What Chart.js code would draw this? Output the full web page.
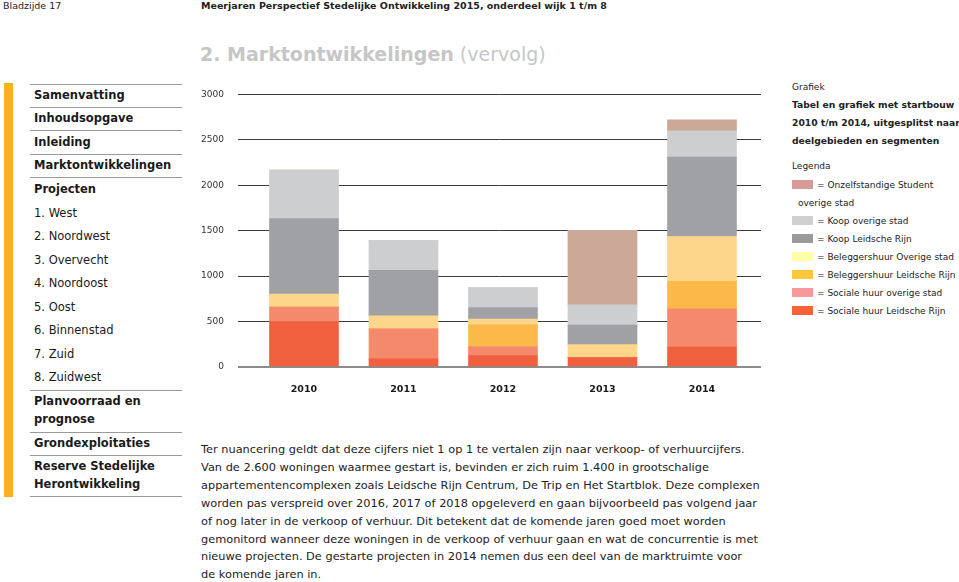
<!DOCTYPE html>
<html>
<head>
<meta charset="utf-8">
<script src="https://cdn.jsdelivr.net/npm/chart.js@4/dist/chart.umd.min.js"></script>
<style>
  html, body { margin:0; padding:0; background:#fff; }
  body { width:959px; height:582px; overflow:hidden; position:relative; font-family:"DejaVu Sans", Verdana, sans-serif; color:#222; }
  .abs { position:absolute; white-space:nowrap; }
  .hdr { font-size:9.5px; line-height:12px; top:0; }
  .title { left:200px; top:41px; font-size:19px; line-height:26px; color:#c6c6c6; }
  .side { position:absolute; left:4px; top:83px; width:9px; height:414px; background:#f9b21b; }
  .rule { position:absolute; left:30px; width:152px; height:0; border-top:1.5px solid #9a9a9a; }
  .mi { position:absolute; left:34px; font-size:11.5px; line-height:16px; white-space:nowrap; color:#1a1a1a; }
  .b { font-weight:bold; }
  .body { position:absolute; left:201px; top:441px; font-size:11.35px; line-height:17.9px; white-space:nowrap; color:#222; }
  .rp { position:absolute; font-size:9px; line-height:12px; white-space:nowrap; color:#222; }
  .rpb { font-size:9.2px; font-weight:bold; }
  .sw { position:absolute; left:792px; width:21px; height:9px; }
</style>
</head>
<body>
<div class="abs hdr" style="left:3px;">Bladzijde 17</div>
<div class="abs hdr b" style="left:201px;">Meerjaren Perspectief Stedelijke Ontwikkeling 2015, onderdeel wijk 1 t/m 8</div>
<div class="abs title"><span class="b">2. Marktontwikkelingen</span> (vervolg)</div>

<div class="side"></div>
<div class="rule" style="top:84px"></div>
<div class="rule" style="top:107px"></div>
<div class="rule" style="top:130px"></div>
<div class="rule" style="top:154px"></div>
<div class="rule" style="top:177px"></div>
<div class="rule" style="top:390px"></div>
<div class="rule" style="top:432px"></div>
<div class="rule" style="top:455px"></div>
<div class="rule" style="top:496px"></div>
<div class="mi b" style="top:87px">Samenvatting</div>
<div class="mi b" style="top:110px">Inhoudsopgave</div>
<div class="mi b" style="top:134px">Inleiding</div>
<div class="mi b" style="top:157px">Marktontwikkelingen</div>
<div class="mi b" style="top:181px">Projecten</div>
<div class="mi" style="top:205px">1. West</div>
<div class="mi" style="top:228px">2. Noordwest</div>
<div class="mi" style="top:252px">3. Overvecht</div>
<div class="mi" style="top:275px">4. Noordoost</div>
<div class="mi" style="top:299px">5. Oost</div>
<div class="mi" style="top:322px">6. Binnenstad</div>
<div class="mi" style="top:346px">7. Zuid</div>
<div class="mi" style="top:369px">8. Zuidwest</div>
<div class="mi b" style="top:393px">Planvoorraad en</div>
<div class="mi b" style="top:411px">prognose</div>
<div class="mi b" style="top:435px">Grondexploitaties</div>
<div class="mi b" style="top:458px">Reserve Stedelijke</div>
<div class="mi b" style="top:476px">Herontwikkeling</div>

<div class="abs" style="left:190px; top:75px; width:585px; height:330px;">
  <canvas id="c" width="585" height="330" style="width:585px;height:330px;"></canvas>
</div>

<div class="rp" style="left:792px; top:81px;">Grafiek</div>
<div class="rp rpb" style="left:792px; top:99px;">Tabel en grafiek met startbouw</div>
<div class="rp rpb" style="left:792px; top:117px;">2010 t/m 2014, uitgesplitst naar</div>
<div class="rp rpb" style="left:792px; top:135px;">deelgebieden en segmenten</div>
<div class="rp" style="left:792px; top:160px;">Legenda</div>
<div id="legend"></div>

<div class="body">Ter nuancering geldt dat deze cijfers niet 1 op 1 te vertalen zijn naar verkoop- of verhuurcijfers.<br>Van de 2.600 woningen waarmee gestart is, bevinden er zich ruim 1.400 in grootschalige<br>appartementencomplexen zoals Leidsche Rijn Centrum, De Trip en Het Startblok. Deze complexen<br>worden pas verspreid over 2016, 2017 of 2018 opgeleverd en gaan bijvoorbeeld pas volgend jaar<br>of nog later in de verkoop of verhuur. Dit betekent dat de komende jaren goed moet worden<br>gemonitord wanneer deze woningen in de verkoop of verhuur gaan en wat de concurrentie is met<br>nieuwe projecten. De gestarte projecten in 2014 nemen dus een deel van de marktruimte voor<br>de komende jaren in.</div>

<script>
// ---- data ----
const years = [2010, 2011, 2012, 2013, 2014];
const socialeHuurLeidscheRijn   = [500,  90, 125, 104, 218];
const socialeHuurOverigeStad    = [159, 329, 101,   0, 423];
const beleggershuurLeidscheRijn = [  0,   0, 239,   0, 301];
const beleggershuurOverigeStad  = [143, 143,  61, 143, 494];
const koopLeidscheRijn          = [831, 501, 129, 215, 873];
const koopOverigeStad           = [533, 330, 215, 222, 290];
const onzelfstandigeStudent     = [  0,   0,   0, 820, 122];
const yTickValues = [0, 500, 1000, 1500, 2000, 2500, 3000];

const seriesNames = [
  'Sociale huur Leidsche Rijn', 'Sociale huur overige stad',
  'Beleggershuur Leidsche Rijn', 'Beleggershuur Overige stad',
  'Koop Leidsche Rijn', 'Koop overige stad', 'Onzelfstandige Student overige stad'
];
const seriesValues = [socialeHuurLeidscheRijn, socialeHuurOverigeStad, beleggershuurLeidscheRijn,
  beleggershuurOverigeStad, koopLeidscheRijn, koopOverigeStad, onzelfstandigeStudent];
const barColors = ['#f0603f', '#f5896b', '#fbba48', '#fdd68c', '#a0a1a4', '#cdced0', '#cca898'];

// legend (text panel)
const legendItems = [
  {label: '= Onzelfstandige Student', color: '#d69a98', y: 180, extra: 'overige stad'},
  {label: '= Koop overige stad', color: '#d0d0d0', y: 216},
  {label: '= Koop Leidsche Rijn', color: '#9a9a9a', y: 234},
  {label: '= Beleggershuur Overige stad', color: '#ffffa8', y: 252},
  {label: '= Beleggershuur Leidsche Rijn', color: '#ffc83a', y: 270},
  {label: '= Sociale huur overige stad', color: '#f7989a', y: 288},
  {label: '= Sociale huur Leidsche Rijn', color: '#f5623a', y: 306}
];
const lg = document.getElementById('legend');
legendItems.forEach(it => {
  const s = document.createElement('div'); s.className = 'sw';
  s.style.top = it.y + 'px'; s.style.background = it.color; lg.appendChild(s);
  const t = document.createElement('div'); t.className = 'rp';
  t.style.left = '817px'; t.style.top = (it.y - 1.5) + 'px'; t.textContent = it.label; lg.appendChild(t);
  if (it.extra) {
    const e = document.createElement('div'); e.className = 'rp';
    e.style.left = '798px'; e.style.top = (it.y + 16.5) + 'px'; e.textContent = it.extra; lg.appendChild(e);
  }
});

new Chart(document.getElementById('c'), {
  type: 'bar',
  data: {
    datasets: seriesValues.map((vals, k) => ({
      label: seriesNames[k],
      data: years.map((yr, i) => ({x: yr, y: vals[i]})),
      backgroundColor: barColors[k],
      borderWidth: 0,
      barThickness: 69
    }))
  },
  options: {
    responsive: false,
    animation: false,
    devicePixelRatio: 1,
    layout: { padding: { top: 12, right: 14, left: 0, bottom: 0 } },
    plugins: { legend: { display: false }, tooltip: { enabled: false } },
    scales: {
      x: {
        type: 'linear',
        stacked: true,
        offset: false,
        min: 2009.337,
        max: 2014.593,
        grid: { display: false, drawTicks: false, offset: false },
        border: { display: false },
        afterBuildTicks: s => { s.ticks = years.map(v => ({value: v})); },
        afterFit: s => { s.height = 38; },
        ticks: {
          padding: 17,
          color: '#1a1a1a',
          font: { family: 'DejaVu Sans', size: 9.5, weight: 'bold' },
          callback: v => String(v),
          maxRotation: 0
        }
      },
      y: {
        stacked: true,
        min: 0,
        max: 3000,
        z: 1,
        border: { display: false },
        afterBuildTicks: s => { s.ticks = yTickValues.map(v => ({value: v})); },
        afterFit: s => { s.width = 48; },
        grid: {
          drawTicks: false,
          color: c => c.tick && c.tick.value === 0 ? '#8c8c8c' : '#3c3c3c',
          lineWidth: c => c.tick && c.tick.value === 0 ? 2 : 1
        },
        ticks: {
          padding: 14,
          color: '#333',
          font: { family: 'DejaVu Sans', size: 9 },
          callback: v => String(v)
        }
      }
    }
  }
});
</script>
</body>
</html>
